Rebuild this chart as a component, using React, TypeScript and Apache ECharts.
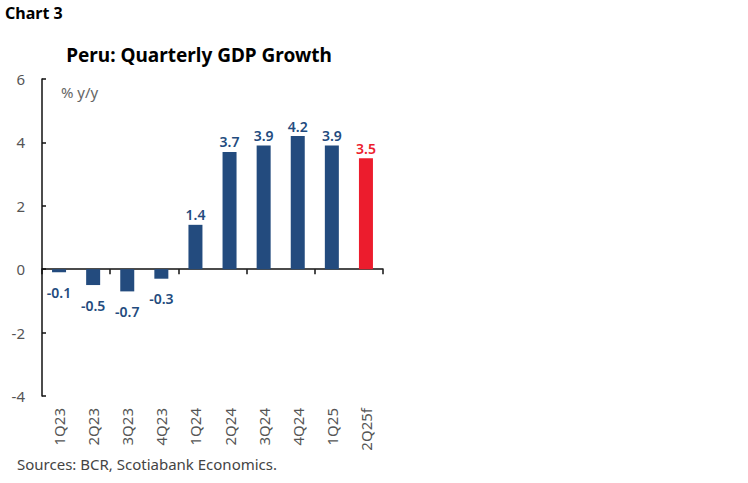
import * as echarts from 'echarts';
import { useEffect, useRef } from 'react';

const categories = ['1Q23', '2Q23', '3Q23', '4Q23', '1Q24', '2Q24', '3Q24', '4Q24', '1Q25', '2Q25f'];
const growth = [-0.1, -0.5, -0.7, -0.3, 1.4, 3.7, 3.9, 4.2, 3.9, 3.5];
const forecastIndex = 9;

const BLUE = '#234b7e';
const RED = '#ec1c2d';
const FONT = '"Noto Sans", sans-serif';

const App = () => {
  const chartRef = useRef<HTMLDivElement>(null);

  useEffect(() => {
    document.body.style.margin = '0';
    if (!chartRef.current) return;
    const chart = echarts.init(chartRef.current, undefined, { renderer: 'svg' });

    const data = growth.map((v, i) => {
      const color = i === forecastIndex ? RED : BLUE;
      return {
        value: v,
        itemStyle: { color },
        label: {
          position: v < 0 ? 'bottom' : 'top',
          distance: v < 0 ? 13 : 3,
          color,
        },
      };
    });

    chart.setOption({
      animation: false,
      backgroundColor: '#fff',
      textStyle: { fontFamily: FONT },
      grid: { left: 42, right: 365, top: 79, bottom: 87 },
      graphic: [
        {
          type: 'text',
          left: 5,
          top: 5,
          style: { text: 'Chart 3', font: `bold 16px ${FONT}`, fill: '#000' },
        },
        {
          type: 'text',
          x: 199,
          y: 55,
          style: {
            text: 'Peru: Quarterly GDP Growth',
            font: `bold 19px ${FONT}`,
            fill: '#000',
            align: 'center',
            verticalAlign: 'middle',
          },
        },
        {
          type: 'text',
          x: 61,
          y: 92,
          style: { text: '% y/y', font: `15px ${FONT}`, fill: '#666', verticalAlign: 'middle' },
        },
        {
          type: 'text',
          x: 17,
          y: 464,
          style: {
            text: 'Sources: BCR, Scotiabank Economics.',
            font: `15px ${FONT}`,
            fill: '#444',
            verticalAlign: 'middle',
          },
        },
      ],
      xAxis: [
        {
          type: 'category',
          data: categories,
          axisLine: { onZero: true, lineStyle: { color: '#111', width: 1.5 } },
          axisTick: { show: true, length: 5, lineStyle: { color: '#111', width: 1.5 } },
          axisLabel: { show: false },
          splitLine: { show: false },
        },
        {
          type: 'category',
          data: categories,
          position: 'bottom',
          axisLine: { show: false, onZero: false },
          axisTick: { show: false },
          axisLabel: {
            rotate: 90,
            margin: 12,
            color: '#555',
            fontSize: 15,
            fontFamily: FONT,
          },
        },
      ],
      yAxis: {
        type: 'value',
        min: -4,
        max: 6,
        interval: 2,
        axisLine: { show: true, lineStyle: { color: '#111', width: 1.5 } },
        axisTick: { show: true, inside: true, length: 4, lineStyle: { color: '#111', width: 1.5 } },
        axisLabel: { color: '#555', fontSize: 15, margin: 17, fontFamily: FONT },
        splitLine: { show: false },
      },
      series: [
        {
          type: 'bar',
          xAxisIndex: 0,
          barWidth: 14,
          data,
          label: {
            show: true,
            fontSize: 14,
            fontWeight: 600,
            fontFamily: FONT,
            formatter: (p: any) => p.value.toFixed(1),
          },
        },
      ],
    });

    return () => chart.dispose();
  }, []);

  return <div ref={chartRef} style={{ width: 748, height: 483 }} />;
};

export default App;
